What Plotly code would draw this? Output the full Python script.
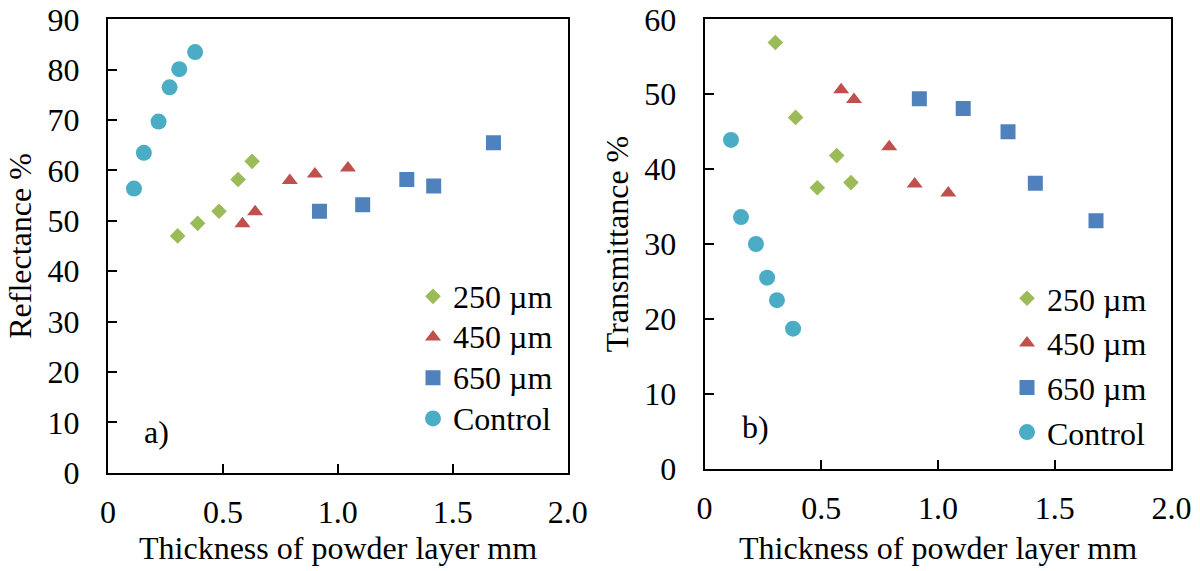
import plotly.graph_objects as go

# ---- data ----
x_250 = [0.303, 0.390, 0.483, 0.566, 0.627]
x_450 = [0.585, 0.640, 0.791, 0.900, 1.044]
x_650 = [0.920, 1.108, 1.300, 1.417, 1.677]
x_ctrl = [0.113, 0.156, 0.220, 0.268, 0.310, 0.379]

refl_250 = [47.0, 49.5, 51.9, 58.2, 61.8]
refl_450 = [49.4, 51.8, 58.0, 59.3, 60.5]
refl_650 = [51.9, 53.2, 58.2, 56.9, 65.5]
refl_ctrl = [56.4, 63.5, 69.7, 76.5, 80.1, 83.5]

trans_250 = [56.9, 46.9, 37.5, 41.8, 38.2]
trans_450 = [50.6, 49.3, 43.0, 38.0, 36.8]
trans_650 = [49.4, 48.1, 45.0, 38.1, 33.1]
trans_ctrl = [43.9, 33.6, 30.0, 25.5, 22.5, 18.7]

series_names = ["250 µm", "450 µm", "650 µm", "Control"]
colors = ["#9BBB59", "#C0504D", "#4F81BD", "#4BACC6"]
symbols = ["diamond", "triangle-up", "square", "circle"]
sizes = [12, 14, 15, 16]

x_ticks = [0, 0.5, 1.0, 1.5, 2.0]
x_ticklabels = ["0", "0.5", "1.0", "1.5", "2.0"]
x_title = "Thickness of powder layer mm"

FONT = "Liberation Serif"
FS = 32

fig = go.Figure()

left_sets = [(x_250, refl_250), (x_450, refl_450), (x_650, refl_650), (x_ctrl, refl_ctrl)]
right_sets = [(x_250, trans_250), (x_450, trans_450), (x_650, trans_650), (x_ctrl, trans_ctrl)]

for i, (xs, ys) in enumerate(left_sets):
    fig.add_trace(go.Scatter(
        x=xs, y=ys, mode="markers",
        name="<span style='font-size:32px'>%s</span>" % series_names[i],
        marker=dict(symbol=symbols[i], color=colors[i], size=sizes[i], line=dict(width=0)),
        xaxis="x", yaxis="y", legend="legend", legendgroup="L%d" % i))
for i, (xs, ys) in enumerate(right_sets):
    fig.add_trace(go.Scatter(
        x=xs, y=ys, mode="markers", name=series_names[i],
        marker=dict(symbol=symbols[i], color=colors[i], size=sizes[i], line=dict(width=0)),
        xaxis="x2", yaxis="y2", legend="legend2", legendgroup="R%d" % i))

axis_common = dict(
    showgrid=False, zeroline=False, showline=True, linecolor="black", linewidth=2,
    mirror=True, ticks="inside", ticklen=9, tickwidth=2, tickcolor="black",
    tickfont=dict(family=FONT, size=FS, color="black"), automargin=False,
)

fig.update_layout(
    width=1200, height=571,
    margin=dict(l=0, r=0, t=0, b=0),
    paper_bgcolor="white", plot_bgcolor="white",
    font=dict(family=FONT, size=FS, color="black"),
    xaxis=dict(domain=[108/1200, 567.7/1200], range=[0, 2.0], tickvals=x_ticks,
               ticktext=x_ticklabels, ticklabelstandoff=10,
               anchor="y", **axis_common),
    yaxis=dict(domain=[1 - 472.7/571, 1 - 19.3/571], range=[0, 90], dtick=10,
               ticklabelstandoff=20,
               title=dict(text="Reflectance %", font=dict(family=FONT, size=FS), standoff=6),
               anchor="x", **axis_common),
    xaxis2=dict(domain=[704.6/1200, 1171.4/1200], range=[0, 2.0], tickvals=x_ticks,
                ticktext=x_ticklabels, ticklabelstandoff=10,
                anchor="y2", **axis_common),
    yaxis2=dict(domain=[1 - 468.7/571, 1 - 19.3/571], range=[0, 60], dtick=10,
                ticklabelstandoff=20,
                title=dict(text="Transmittance %", font=dict(family=FONT, size=FS), standoff=6),
                anchor="x2", **axis_common),
    legend=dict(x=413/1200, y=1 - 271/571, xanchor="left", yanchor="top",
                bgcolor="rgba(0,0,0,0)", font=dict(family=FONT, size=29),
                tracegroupgap=0, itemwidth=30),
    legend2=dict(x=1007/1200, y=1 - 271/571, xanchor="left", yanchor="top",
                 bgcolor="rgba(0,0,0,0)", font=dict(family=FONT, size=FS),
                 tracegroupgap=0, itemwidth=30),
    annotations=[
        dict(text=x_title, x=0.5, y=1 - 548/571, xref="x domain", yref="paper",
             showarrow=False, xanchor="center", yanchor="middle",
             font=dict(family=FONT, size=FS)),
        dict(text=x_title, x=0.5, y=1 - 548/571, xref="x2 domain", yref="paper",
             showarrow=False, xanchor="center", yanchor="middle",
             font=dict(family=FONT, size=FS)),
        dict(text="a)", x=0.15, y=8, xref="x", yref="y", showarrow=False,
             xanchor="left", yanchor="middle", font=dict(family=FONT, size=FS)),
        dict(text="b)", x=0.15, y=5.6, xref="x2", yref="y2", showarrow=False,
             xanchor="left", yanchor="middle", font=dict(family=FONT, size=FS)),
    ],
)

fig.write_html("out.html")
